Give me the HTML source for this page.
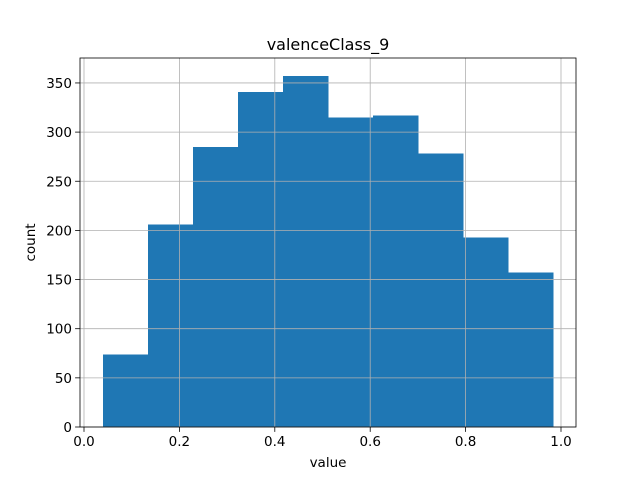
<!DOCTYPE html>
<html>
<head>
<meta charset="utf-8">
<style>
  html, body { margin: 0; padding: 0; background: #fff; }
  svg text { font-family: "DejaVu Sans", "Liberation Sans", sans-serif; fill: #000; }
</style>
</head>
<body>
<svg id="chart" width="640" height="480" xmlns="http://www.w3.org/2000/svg">
  <rect x="0" y="0" width="640" height="480" fill="#fff"></rect>
  <g id="bars" shape-rendering="crispEdges"></g>
  <g id="grid"></g>
  <g id="xticks"></g>
  <g id="yticks"></g>
  <rect x="80" y="58" width="496" height="369" fill="none" stroke="#000" stroke-width="0.8"></rect>
  <text x="328" y="50" font-size="16" text-anchor="middle">valenceClass_9</text>
  <text x="328" y="467" font-size="13.5" text-anchor="middle">value</text>
  <text x="0" y="0" font-size="13.5" text-anchor="middle" transform="translate(35,242.5) rotate(-90)">count</text>
</svg>
<script>
const binStart = 0.0398;
const binEnd = 0.983;
const counts = [74, 206, 285, 341, 357, 315, 317, 278, 193, 157];
const xTickValues = [0.0, 0.2, 0.4, 0.6, 0.8, 1.0];
const xTickLabels = ["0.0", "0.2", "0.4", "0.6", "0.8", "1.0"];
const yTickValues = [0, 50, 100, 150, 200, 250, 300, 350];
const yTickLabels = ["0", "50", "100", "150", "200", "250", "300", "350"];

const NS = "http://www.w3.org/2000/svg";
const L = 80, R = 576, T = 58, B = 427;
function xs(v) { return 84 + v * 477; }
function ys(v) { return 427 - v * 0.983; }
function mk(tag, attrs, parent) {
  const e = document.createElementNS(NS, tag);
  for (const k in attrs) e.setAttribute(k, attrs[k]);
  parent.appendChild(e);
  return e;
}
const barsG = document.getElementById('bars');
const w = (binEnd - binStart) / counts.length;
counts.forEach((c, i) => {
  const x0 = xs(binStart + i * w), x1 = xs(binStart + (i + 1) * w);
  const r = mk('rect', {x: x0, y: ys(c), width: x1 - x0 + 0.5, height: ys(0) - ys(c), fill: '#1f77b4'}, barsG);
  
  
});
const gridG = document.getElementById('grid');
const xt = document.getElementById('xticks');
const yt = document.getElementById('yticks');
xTickValues.forEach((v, i) => {
  const x = xs(v);
  const g = mk('line', {x1: x, x2: x, y1: T, y2: B, stroke: '#b0b0b0', 'stroke-width': 0.8}, gridG);
  
  
  const t = mk('line', {x1: x, x2: x, y1: B, y2: B + 4.9, stroke: '#000', 'stroke-width': 0.8}, xt);
  
  
  const lb = mk('text', {x: x, y: B + 19, 'font-size': 13.5, 'text-anchor': 'middle'}, xt);
  lb.textContent = xTickLabels[i];
  
  
});
yTickValues.forEach((v, i) => {
  const y = ys(v);
  const g = mk('line', {x1: L, x2: R, y1: y, y2: y, stroke: '#b0b0b0', 'stroke-width': 0.8}, gridG);
  
  
  const t = mk('line', {x1: L - 4.9, x2: L, y1: y, y2: y, stroke: '#000', 'stroke-width': 0.8}, yt);
  
  
  const lb = mk('text', {x: L - 8, y: y + 5, 'font-size': 13.5, 'text-anchor': 'end'}, yt);
  lb.textContent = yTickLabels[i];
  
  
});
</script>
</body>
</html>
